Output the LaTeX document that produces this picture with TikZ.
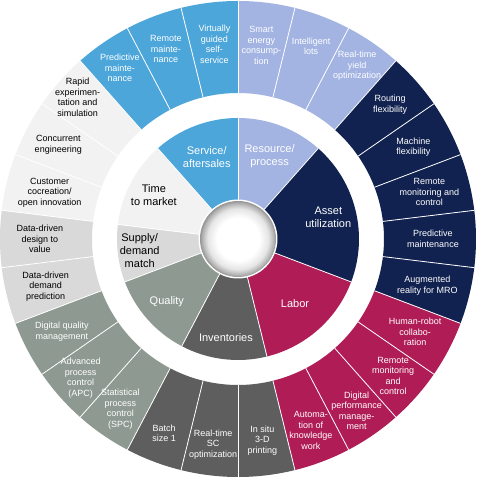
\documentclass[tikz,border=0pt]{standalone}
\usepackage{fontspec}
\setmainfont{Liberation Sans}
\definecolor{cserv}{RGB}{76,166,218}
\definecolor{cres}{RGB}{163,180,227}
\definecolor{casset}{RGB}{17,34,80}
\definecolor{clabor}{RGB}{176,28,86}
\definecolor{cinv}{RGB}{94,94,94}
\definecolor{cqual}{RGB}{142,154,145}
\definecolor{csup}{RGB}{217,217,217}
\definecolor{ctime}{RGB}{242,242,242}
\pgfdeclareradialshading{btnshade}{\pgfpoint{0bp}{0bp}}{color(0bp)=(white); color(14bp)=(white); color(20bp)=(black!10); color(23.5bp)=(black!30); color(25bp)=(black!42); color(50bp)=(black!42)}
\tikzset{
  outerlbl/.style={align=center, font=\fontsize{9}{10.5}\selectfont, inner sep=0pt},
  innerlbl/.style={align=center, font=\fontsize{11}{13}\selectfont, inner sep=0pt},
  sepline/.style={white, line width=0.8pt}
}
\begin{document}
\begin{tikzpicture}[x=1pt,y=1pt]
\useasboundingbox (-238pt,-239pt) rectangle (242pt,239pt);
\fill[white] (-238pt,-239pt) rectangle (242pt,239pt);
% outer ring
\foreach \i/\col in {0/cres,1/cres,2/cres,3/casset,4/casset,5/casset,6/casset,7/casset,8/clabor,9/clabor,10/clabor,11/clabor,12/cinv,13/cinv,14/cinv,15/cqual,16/cqual,17/cqual,18/csup,19/csup,20/ctime,21/ctime,22/ctime,23/cserv,24/cserv,25/cserv}{
  \pgfmathsetmacro\a{90-\i*360/26}
  \pgfmathsetmacro\b{90-(\i+1)*360/26}
  \fill[\col] (\a:146pt) arc[start angle=\a, end angle=\b, radius=146pt] -- (\b:238pt) arc[start angle=\b, end angle=\a, radius=238pt] -- cycle;
  \draw[sepline] (\a:146pt) -- (\a:238pt);
}
% inner pie
\foreach \s/\e/\col in {0/3/cres,3/8/casset,8/12/clabor,12/15/cinv,15/18/cqual,18/20/csup,20/23/ctime,23/26/cserv}{
  \pgfmathsetmacro\a{90-\s*360/26}
  \pgfmathsetmacro\b{90-\e*360/26}
  \fill[\col] (0pt,0pt) -- (\a:121pt) arc[start angle=\a, end angle=\b, radius=121pt] -- cycle;
  \draw[sepline] (0pt,0pt) -- (\a:121pt);
}
% center button
\fill[white] (0pt,0pt) circle[radius=39.5pt];
\shade[shading=btnshade] (0pt,0pt) circle[radius=38pt];
% inner labels
\node[innerlbl, text=white] (iRes) at (69.2:89pt) {Resource/\\process};
\node[innerlbl, text=white] (iAsset) at (13.8:93pt) {Asset\\utilization};
\node[innerlbl, text=white] (iLabor) at (-48.5:86pt) {Labor};
\node[innerlbl, text=white] (iInv) at (-97:99pt) {Inventories};
\node[innerlbl, text=white] (iQual) at (221.5:95pt) {Quality};
\node[innerlbl, text=black] (iSup) at (186.9:99pt) {Supply/\\demand\\match};
\node[innerlbl, text=black] (iTime) at (152.3:95pt) {Time\\to market};
\node[innerlbl, text=white] (iServ) at (110.8:88pt) {Service/\\aftersales};
% outer labels
\node[outerlbl, text=white] (o0) at (83.1:195pt) {Smart\\energy\\consump-\\tion};
\node[outerlbl, text=white] (o1) at (69.2:206pt) {Intelligent\\lots};
\node[outerlbl, text=white] (o2) at (55.4:210pt) {Real-time\\yield\\optimization};
\node[outerlbl, text=white] (o3) at (41.5:203pt) {Routing\\flexibility};
\node[outerlbl, text=white] (o4) at (27.7:198pt) {Machine\\flexibility};
\node[outerlbl, text=white] (o5) at (13.8:197pt) {Remote\\monitoring and\\control};
\node[outerlbl, text=white] (o6) at (0:195pt) {Predictive\\maintenance};
\node[outerlbl, text=white] (o7) at (-13.8:195pt) {Augmented\\reality for MRO};
\node[outerlbl, text=white] (o8) at (-27.7:200pt) {Human-robot\\collabo-\\ration};
\node[outerlbl, text=white] (o9) at (-41.5:207pt) {Remote\\monitoring\\and\\control};
\node[outerlbl, text=white] (o10) at (-55.4:209pt) {Digital\\performance\\manage-\\ment};
\node[outerlbl, text=white] (o11) at (-69.2:205pt) {Automa-\\tion of\\knowledge\\work};
\node[outerlbl, text=white] (o12) at (-83.1:203pt) {In situ\\3-D\\printing};
\node[outerlbl, text=white] (o13) at (-96.9:207pt) {Real-time\\SC\\optimization};
\node[outerlbl, text=white] (o14) at (-110.8:208pt) {Batch\\size 1};
\node[outerlbl, text=white] (o15) at (-124.6:207pt) {Statistical\\process\\control\\(SPC)};
\node[outerlbl, text=white] (o16) at (-138.5:210pt) {Advanced\\process\\control\\(APC)};
\node[outerlbl, text=white] (o17) at (-152.3:199pt) {Digital quality\\management};
\node[outerlbl, text=black] (o18) at (-166.2:198pt) {Data-driven\\demand\\prediction};
\node[outerlbl, text=black] (o19) at (180:198pt) {Data-driven\\design to\\value};
\node[outerlbl, text=black] (o20) at (166.2:194pt) {Customer\\cocreation/\\open innovation};
\node[outerlbl, text=black] (o21) at (152.3:203pt) {Concurrent\\engineering};
\node[outerlbl, text=black] (o22) at (138.5:214pt) {Rapid\\experimen-\\tation and\\simulation};
\node[outerlbl, text=white] (o23) at (124.6:208pt) {Predictive\\mainte-\\nance};
\node[outerlbl, text=white] (o24) at (110.8:203pt) {Remote\\mainte-\\nance};
\node[outerlbl, text=white] (o25) at (96.9:196pt) {Virtually\\guided\\self-\\service};
\end{tikzpicture}
\end{document}
